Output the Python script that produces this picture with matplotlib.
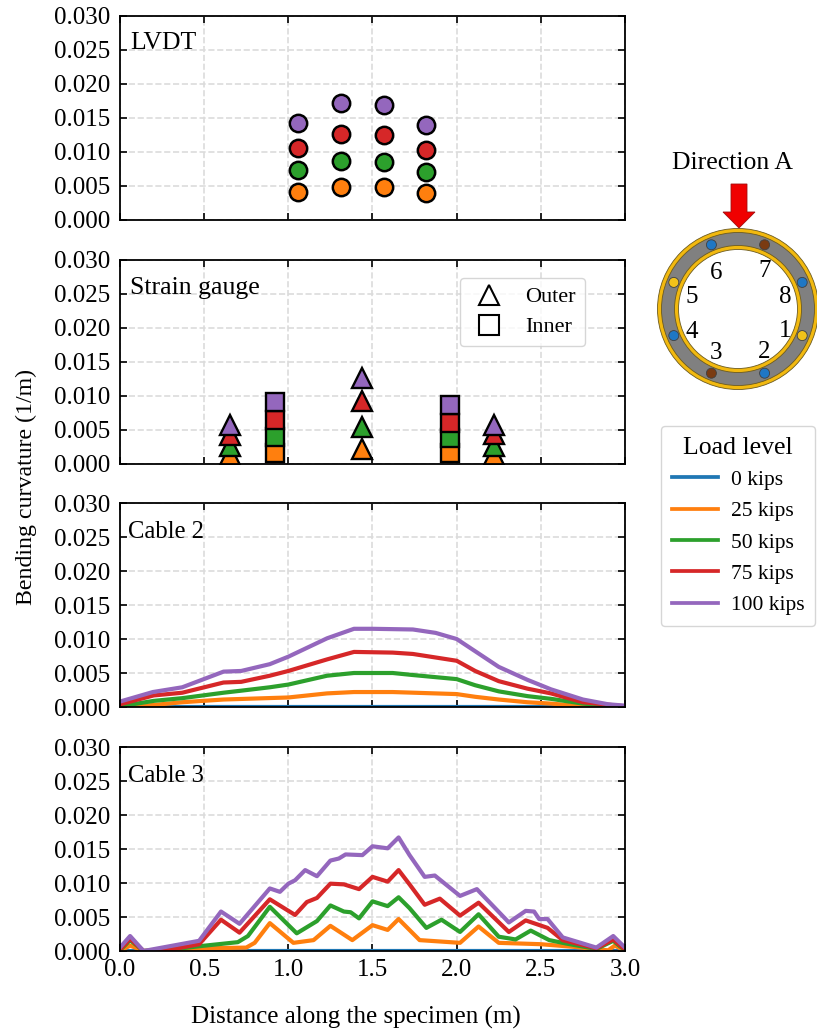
import numpy as np
import matplotlib
matplotlib.use("Agg")
import matplotlib.pyplot as plt
from matplotlib.lines import Line2D
from matplotlib.patches import Circle, Polygon

plt.rcParams['font.family'] = ['Liberation Serif', 'DejaVu Sans']

# Colours per load level
colors = ['#1f77b4', '#ff7f0e', '#2ca02c', '#d62728', '#9467bd']
load_labels = ['0 kips', '25 kips', '50 kips', '75 kips', '100 kips']

# LVDT
lvdt_x = [1.06, 1.315, 1.57, 1.82]
lvdt_25 = [0.0041, 0.0048, 0.0048, 0.0039]
lvdt_50 = [0.0074, 0.0087, 0.0086, 0.0070]
lvdt_75 = [0.0106, 0.0127, 0.0125, 0.0103]
lvdt_100 = [0.0142, 0.0172, 0.0169, 0.0139]

# Strain gauges
outer_x = [0.656, 1.44, 2.22]
outer_25 = [0.0013, 0.0022, 0.0013]
outer_50 = [0.0027, 0.0054, 0.0027]
outer_75 = [0.0042, 0.0093, 0.0044]
outer_100 = [0.0057, 0.0127, 0.0057]
inner_x = [0.918, 1.96]
inner_25 = [0.0016, 0.0016]
inner_50 = [0.0040, 0.0038]
inner_75 = [0.0064, 0.0061]
inner_100 = [0.0091, 0.0087]

# Cable 2
c2_x_100 = [0, .195, .37, .615, .72, .89, 1.0, 1.23, 1.39, 1.5, 1.74, 1.875, 2.0, 2.11, 2.25, 2.42, 2.56, 2.75, 2.9, 3.0]
c2_100 = [.0008, .0022, .0029, .0052, .0053, .0063, .0074, .0101, .0115, .0115, .0114, .0109, .0100, .0082, .0059, .0040, .0026, .0011, .0004, .0002]
c2_x_75 = [0, .2, .37, .615, .72, .89, 1.0, 1.23, 1.39, 1.62, 1.74, 2.0, 2.11, 2.25, 2.42, 2.56, 2.75, 3.0]
c2_75 = [.0004, .0017, .0021, .0036, .0037, .0046, .0053, .0070, .0081, .0080, .0078, .0068, .0053, .0038, .0027, .0020, .0007, .0001]
c2_50 = [.0001, .0009, .0013, .0021, .0024, .0029, .0033, .0046, .0050, .0050, .0047, .0041, .0032, .0023, .0016, .0012, .0005, 0]
c2_x_25 = [0, .2, .37, .615, 1.0, 1.23, 1.39, 1.62, 2.0, 2.11, 2.25, 2.42, 2.56, 2.75, 3.0]
c2_25 = [0, .0003, .0007, .0011, .0014, .0020, .0022, .0022, .0019, .0015, .0011, .0007, .0005, .0001, 0]

# Cable 3
c3_x_100 = [0, .06, .14, .47, .6, .71, .89, .95, 1.0, 1.04, 1.1, 1.17, 1.25, 1.3, 1.34, 1.44, 1.5, 1.59, 1.655, 1.72, 1.81, 1.87, 2.02, 2.12, 2.31, 2.41, 2.46, 2.49, 2.54, 2.63, 2.83, 2.93, 3.0]
c3_100 = [.0005, .0022, 0, .0015, .0058, .0040, .0092, .0087, .0099, .0104, .0119, .0110, .0133, .0136, .0142, .0141, .0154, .0151, .0167, .0141, .0109, .0111, .0081, .0091, .0042, .0059, .0058, .0047, .0047, .0020, .0005, .0022, .0005]
c3_x_75 = [0, .06, .14, .3, .47, .6, .71, .89, 1.04, 1.11, 1.17, 1.25, 1.33, 1.42, 1.5, 1.59, 1.655, 1.72, 1.81, 1.9, 2.02, 2.13, 2.31, 2.41, 2.54, 2.63, 2.83, 2.93, 3.0]
c3_75 = [.0002, .0018, 0, .0002, .0010, .0046, .0027, .0076, .0053, .0072, .0078, .0099, .0098, .0091, .0109, .0102, .0119, .0098, .0068, .0077, .0052, .0071, .0028, .0045, .0034, .0016, .0004, .0017, .0002]
c3_x_50 = [0, .06, .14, .3, .47, .7, .76, .89, 1.05, 1.17, 1.25, 1.33, 1.37, 1.42, 1.5, 1.59, 1.655, 1.72, 1.82, 1.91, 2.02, 2.13, 2.25, 2.35, 2.44, 2.55, 2.65, 2.83, 2.93, 3.0]
c3_50 = [.0001, .0016, 0, .0002, .0007, .0013, .0022, .0065, .0026, .0044, .0067, .0058, .0057, .0048, .0073, .0066, .0079, .0063, .0034, .0046, .0028, .0054, .0021, .0017, .0030, .0016, .0011, .0003, .0015, .0001]
c3_x_25 = [0, .06, .14, .3, .5, .75, .8, .89, 1.03, 1.15, 1.25, 1.38, 1.5, 1.59, 1.655, 1.78, 2.02, 2.13, 2.25, 2.5, 2.7, 2.9, 2.94, 3.0]
c3_25 = [0, .0008, 0, .0001, .0004, .0005, .0012, .0041, .0012, .0016, .0037, .0016, .0038, .0031, .0047, .0016, .0012, .0036, .0012, .0010, .0006, .0001, .0008, 0]

zero_x = [0, 3]
zero_y = [0, 0]

yticks = [0, .005, .010, .015, .020, .025, .030]
xticks = [0, .5, 1, 1.5, 2, 2.5, 3]

W, H = 817, 1036
fig = plt.figure(figsize=(W / 100, H / 100), dpi=100)

tops = [16, 260, 503, 747]
names = ['LVDT', 'Strain gauge', 'Cable 2', 'Cable 3']
name_y = [.866, .861, .856, .856]
name_x = [.02, .02, .016, .016]
name_size = [18.5, 18.5, 17.7, 17.7]
axes = []
for top, name, nx, ny, ns in zip(tops, names, name_x, name_y, name_size):
    ax = fig.add_axes([120 / W, 1 - (top + 204) / H, 505 / W, 204 / H])
    ax.set_xlim(0, 3)
    ax.set_ylim(0, .03)
    ax.set_xticks(xticks)
    ax.set_yticks(yticks)
    ax.set_yticklabels(['%.3f' % v for v in yticks])
    ax.set_xticklabels(['%.1f' % v for v in xticks] if top == tops[-1] else [])
    ax.tick_params(direction='in', length=5, width=1.2, top=True, right=True, labelsize=18)
    ax.tick_params(axis='y', pad=7)
    ax.tick_params(axis='x', pad=6)
    ax.grid(True, ls='--', lw=1.2, color='#dcdcdc')
    ax.set_axisbelow(True)
    for s in ax.spines.values():
        s.set_linewidth(1.3)
    ax.text(nx, ny, name, transform=ax.transAxes, fontsize=ns, va='center', zorder=10)
    axes.append(ax)

# LVDT panel
for c, vals in zip(colors[1:], [lvdt_25, lvdt_50, lvdt_75, lvdt_100]):
    axes[0].plot(lvdt_x, vals, 'o', ms=12.5, mfc=c, mec='black', mew=1.8, ls='none')

# Strain gauge panel
for c, ov, iv in zip(colors[1:], [outer_25, outer_50, outer_75, outer_100], [inner_25, inner_50, inner_75, inner_100]):
    axes[1].plot(outer_x, ov, '^', ms=14, mfc=c, mec='black', mew=1.7, ls='none')
    axes[1].plot(inner_x, iv, 's', ms=12.5, mfc=c, mec='black', mew=1.7, ls='none')

marker_handles = [
    Line2D([], [], marker='^', ls='none', ms=15, mfc='white', mec='black', mew=1.5, label='Outer'),
    Line2D([], [], marker='s', ls='none', ms=14, mfc='white', mec='black', mew=1.5, label='Inner'),
]
axes[1].legend(handles=marker_handles, loc='upper left', bbox_to_anchor=((460 - 120) / 505, (464 - 278) / 204),
               borderaxespad=0, fontsize=16, labelspacing=.42, handletextpad=.7, handlelength=1.85, borderpad=.4)

# Fibre optic panels
lw = 3
axes[2].plot(zero_x, zero_y, color=colors[0], lw=lw)
axes[2].plot(c2_x_25, c2_25, color=colors[1], lw=lw)
axes[2].plot(c2_x_75, c2_50, color=colors[2], lw=lw)
axes[2].plot(c2_x_75, c2_75, color=colors[3], lw=lw)
axes[2].plot(c2_x_100, c2_100, color=colors[4], lw=lw)

axes[3].plot(zero_x, zero_y, color=colors[0], lw=lw)
axes[3].plot(c3_x_25, c3_25, color=colors[1], lw=lw, solid_joinstyle='round')
axes[3].plot(c3_x_50, c3_50, color=colors[2], lw=lw, solid_joinstyle='round')
axes[3].plot(c3_x_75, c3_75, color=colors[3], lw=lw, solid_joinstyle='round')
axes[3].plot(c3_x_100, c3_100, color=colors[4], lw=lw, solid_joinstyle='round')

fig.text(356 / W, 1 - 1017 / H, 'Distance along the specimen (m)', fontsize=18, ha='center', va='center')
fig.text(26 / W, 1 - 487 / H, 'Bending curvature (1/m)', fontsize=17.2, ha='center', va='center', rotation=90)

# Load level legend
load_handles = [Line2D([], [], color=c, lw=2.7, label=l) for c, l in zip(colors, load_labels)]
leg = fig.legend(handles=load_handles, title='Load level', loc='upper left',
                 bbox_to_anchor=(661 / W, 1 - 426 / H), borderaxespad=0, fontsize=15.5,
                 title_fontsize=18.5, handlelength=2.15, labelspacing=.52, handletextpad=.6, borderpad=.5)

# Section sketch, in pixel coordinates
sk = fig.add_axes([0, 0, 1, 1], facecolor='none')
sk.set_xlim(0, W)
sk.set_ylim(H, 0)
sk.axis('off')
cx, cy = 738, 309
gold = '#f2b90f'
sk.add_patch(Circle((cx, cy), 80.5, fc=gold, ec='#6b5a20', lw=.6))
sk.add_patch(Circle((cx, cy), 76.5, fc='#808080', ec='#6b5a20', lw=.6))
sk.add_patch(Circle((cx, cy), 63.5, fc=gold, ec='#6b5a20', lw=.6))
sk.add_patch(Circle((cx, cy), 59.5, fc='white', ec='#6b5a20', lw=.6))
sensor_angles = [22.5, 67.5, 112.5, 157.5, 202.5, 247.5, 292.5, 337.5]
sensor_colors = ['#1f77c4', '#7a3b12', '#1f77c4', '#f2c21a', '#1f77c4', '#7a3b12', '#1f77c4', '#f2c21a']
for a, c in zip(sensor_angles, sensor_colors):
    r = np.deg2rad(a)
    sk.add_patch(Circle((cx + 69.5 * np.cos(r), cy - 69.5 * np.sin(r)), 5, fc=c, ec='#404040', lw=.6))
number_labels = ['1', '2', '3', '4', '5', '6', '7', '8']
number_dx = [47, 26, -22, -46, -46, -22, 27, 47]
number_dy = [22, 43, 44, 23, -12, -36, -38, -12]
for t, dx, dy in zip(number_labels, number_dx, number_dy):
    sk.text(cx + dx, cy + dy, t, fontsize=18, ha='center', va='center')
sk.add_patch(Polygon([(731, 184), (747, 184), (747, 212), (755, 212), (739, 228), (723, 212), (731, 212)],
                     fc='#f00000', ec='#a01010', lw=.6))
sk.text(733, 163, 'Direction A', fontsize=18.5, ha='center', va='center')

fig.savefig('out.png', dpi=100)
